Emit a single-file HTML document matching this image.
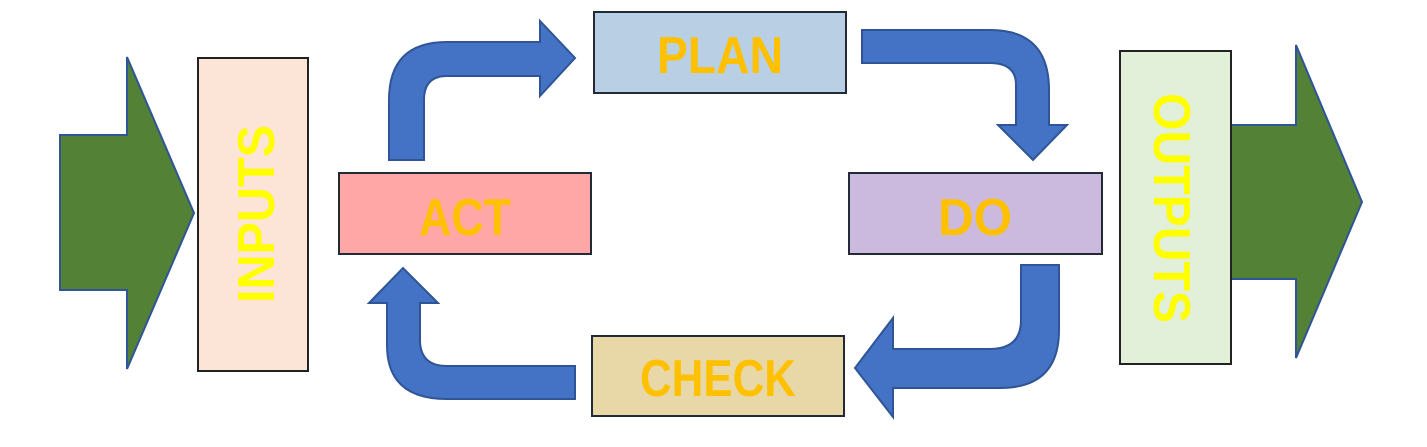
<!DOCTYPE html>
<html><head><style>body{margin:0;background:#fff}svg{display:block}
text{font-family:"Liberation Sans",sans-serif;font-weight:bold}</style></head>
<body>
<svg width="1427" height="447" viewBox="0 0 1427 447">
<g fill="#538135" stroke="#2f5597" stroke-width="2">
<path d="M60,135 L127,135 L127,57 L194,213 L127,369 L127,290 L60,290 Z"/>
<path d="M1230,125 L1296,125 L1296,45 L1362,202 L1296,358 L1296,279 L1230,279 Z"/>
</g>
<rect x="198" y="58" width="110" height="313" fill="#fce4d6" stroke="#222" stroke-width="2"/>
<rect x="1120" y="51" width="111" height="313" fill="#e2efd9" stroke="#222" stroke-width="2"/>
<rect x="594" y="12" width="252" height="81" fill="#b8cfe4" stroke="#222a35" stroke-width="2"/>
<rect x="339" y="173" width="252" height="81" fill="#ffa7a7" stroke="#222a35" stroke-width="2"/>
<rect x="849" y="173" width="253" height="81" fill="#ccb9de" stroke="#222a35" stroke-width="2"/>
<rect x="592" y="336" width="252" height="80" fill="#e8d8a8" stroke="#222a35" stroke-width="2"/>
<g fill="#4472c4" stroke="#2f5597" stroke-width="2">
<path d="M389,160 L389,100 Q389,42 447,42 L540,42 L540,21 L575,58 L540,96 L540,76 L447,76 Q424,76 424,100 L424,160 Z"/>
<path d="M862,30 L990,30 Q1049,30 1049,90 L1049,125 L1067,125 L1033,160 L998,125 L1016,125 L1016,85 Q1016,63 990,63 L862,63 Z"/>
<path d="M1059,265 L1059,330 Q1059,388 1000,388 L893,388 L893,417 L855,368 L893,318 L893,349 L990,349 Q1021,349 1021,320 L1021,265 Z"/>
<path d="M575,366 L447,366 Q420,366 420,340 L420,303 L438,303 L403,268 L369,303 L387,303 L387,345 Q387,399 447,399 L575,399 Z"/>
</g>
<g fill="#ffc000" font-size="52" text-anchor="middle">
<text x="720" y="73" textLength="126" lengthAdjust="spacingAndGlyphs">PLAN</text>
<text x="465" y="235" textLength="92" lengthAdjust="spacingAndGlyphs">ACT</text>
<text x="975" y="235" textLength="74" lengthAdjust="spacingAndGlyphs">DO</text>
<text x="718" y="396" textLength="156" lengthAdjust="spacingAndGlyphs">CHECK</text>
</g>
<g fill="#ffff00" font-size="52" text-anchor="middle">
<text transform="translate(274,214) rotate(-90)" textLength="178" lengthAdjust="spacingAndGlyphs">INPUTS</text>
<text transform="translate(1154,208) rotate(90)" textLength="230" lengthAdjust="spacingAndGlyphs">OUTPUTS</text>
</g>
</svg>
</body></html>
